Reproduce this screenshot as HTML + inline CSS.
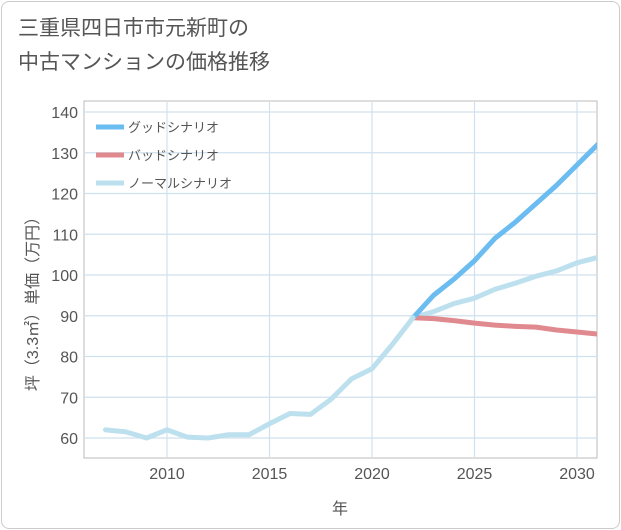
<!DOCTYPE html>
<html><head><meta charset="utf-8">
<style>
body{margin:0;background:#fff;font-family:"Liberation Sans","Noto Sans CJK JP",sans-serif;}
#card{position:absolute;left:1px;top:1px;width:617px;height:526px;border:1px solid #ccc;border-radius:8px;background:#fff;}
#title{position:absolute;left:18px;top:12px;font-size:21px;line-height:34px;color:#555;}
</style></head><body>
<div id="card"></div>
<div id="title">三重県四日市市元新町の<br>中古マンションの価格推移</div>
<svg id="chart" width="621" height="530" style="position:absolute;left:0;top:0"></svg>
<script>
const histYears=[2007,2008,2009,2010,2011,2012,2013,2014,2015,2016,2017,2018,2019,2020,2021,2022];
const histValues=[62,61.5,60,62,60.2,60,60.8,60.8,63.5,66,65.8,69.5,74.5,77,83,89.5];
const futYears=[2022,2023,2024,2025,2026,2027,2028,2029,2030,2031];
const goodValues=[89.5,95,99,103.5,109,113,117.5,122,127,132];
const badValues=[89.5,89.3,88.8,88.2,87.7,87.4,87.2,86.5,86,85.5];
const normalValues=[89.5,91,93,94.3,96.5,98,99.7,101,103,104.3];
const yTicks=[60,70,80,90,100,110,120,130,140];
const xTicks=[2010,2015,2020,2025,2030];
const legendLabels=["グッドシナリオ","バッドシナリオ","ノーマルシナリオ"];
const legendColors=["#6bbcf0","#e08a90","#bde0ef"];

const NS="http://www.w3.org/2000/svg";
const svg=document.getElementById('chart');
const L=84,R=597,T=101,B=458;
const x=v=>167+(v-2010)*20.5;
const y=v=>438-(v-60)*4.075;
function mk(t,a,p){const e=document.createElementNS(NS,t);for(const k in a)e.setAttribute(k,a[k]);(p||svg).appendChild(e);return e;}
const bg=mk('rect',{x:L,y:T,width:R-L,height:B-T,fill:'#fff',stroke:'#bbb'});


xTicks.forEach(v=>{
 const g=mk('line',{x1:x(v),x2:x(v),y1:T,y2:B,stroke:'#cfe1ee','stroke-width':1.2});
 
 
});
yTicks.forEach(v=>{
 const g=mk('line',{x1:L,x2:R,y1:y(v),y2:y(v),stroke:'#cfe1ee','stroke-width':1.2});
 
 
});
yTicks.forEach(v=>{
 const t=mk('text',{x:78,y:y(v)+6,'text-anchor':'end','font-size':16,fill:'#555'});t.textContent=v;
 
 
});
xTicks.forEach(v=>{
 const t=mk('text',{x:x(v),y:479,'text-anchor':'middle','font-size':16,fill:'#555'});t.textContent=v;
 
 
});
const xt=mk('text',{x:340,y:514,'text-anchor':'middle','font-size':16,fill:'#555'});xt.textContent='年';


const yt=mk('text',{x:0,y:0,'text-anchor':'middle','font-size':16,fill:'#555',transform:'translate(38,300) rotate(-90)'});yt.textContent='坪（3.3㎡）単価（万円）';


function line(xs,vs,c,name){
 const p=mk('polyline',{points:xs.map((v,i)=>x(v)+','+y(vs[i])).join(' '),fill:'none',stroke:c,'stroke-width':5,'stroke-linejoin':'round','stroke-linecap':'round'});
 
 
}
const clip=mk('clipPath',{id:'cp'});mk('rect',{x:L,y:T,width:R-L,height:B-T},clip);
line(futYears,normalValues,legendColors[2],'normal-line');
line(futYears,badValues,legendColors[1],'bad-line');
line(futYears,goodValues,legendColors[0],'good-line');
line(histYears,histValues,legendColors[2],'history-line');
svg.querySelectorAll('polyline').forEach(p=>p.setAttribute('clip-path','url(#cp)'));
legendLabels.forEach((s,i)=>{
 const ly=127+i*28;
 const l=mk('line',{x1:96,x2:124,y1:ly,y2:ly,stroke:legendColors[i],'stroke-width':5});
 
 
 const t=mk('text',{x:128,y:ly+5,'font-size':13,fill:'#555'});t.textContent=s;
 
 
});
</script>
</body></html>
